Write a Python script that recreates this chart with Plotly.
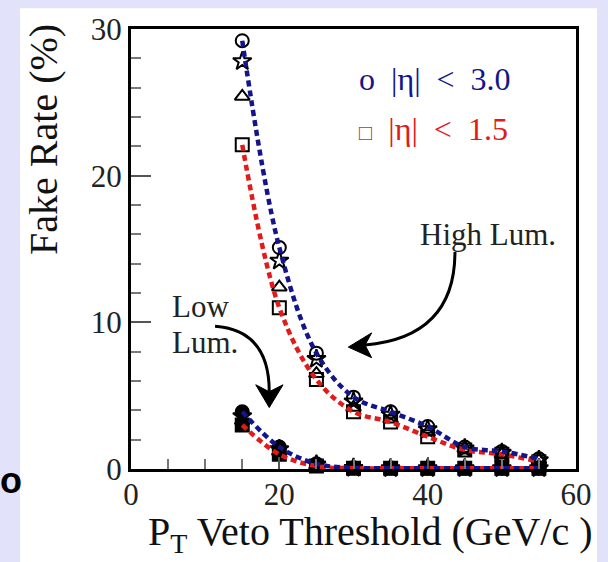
import plotly.graph_objects as go

# ---------------- data ----------------
pt_threshold = [15, 20, 25, 30, 35, 40, 45, 50, 55]

# High luminosity (open markers)
high_circle   = [29.2, 15.1, 7.9, 4.9, 3.9, 2.9, 1.5, 1.2, 0.7]
high_star     = [27.8, 14.2, 7.5, 4.6, 3.7, 2.7, 1.4, 1.1, 0.6]
high_triangle = [25.4, 12.4, 6.5, 4.2, 3.4, 2.5, 1.4, 1.0, 0.6]
high_square   = [22.1, 11.0, 6.1, 3.9, 3.2, 2.2, 1.3, 1.0, 0.5]

# Low luminosity (filled markers)
low_circle   = [3.9, 1.5, 0.35, 0.08, 0.06, 0.05, 0.05, 0.05, 0.05]
low_star     = [3.6, 1.35, 0.3, 0.07, 0.05, 0.05, 0.05, 0.05, 0.05]
low_triangle = [3.3, 1.2, 0.25, 0.06, 0.05, 0.05, 0.05, 0.05, 0.05]
low_square   = [3.0, 1.0, 0.2, 0.05, 0.05, 0.05, 0.05, 0.05, 0.05]

x_ticks = [0, 20, 40, 60]
y_ticks = [0, 10, 20, 30]

BLUE = "#14148c"
RED = "#e31a1a"
SERIF = "Liberation Serif, Times New Roman, serif"
NB = "\u00a0"

fig = go.Figure()

def add_markers(y, symbol, filled):
    fig.add_trace(go.Scatter(
        x=pt_threshold, y=y, mode="markers", showlegend=False,
        marker=dict(symbol=symbol if filled else symbol + "-open",
                    size=13 if symbol != "star" else 14,
                    color="black",
                    line=dict(color="black", width=2)),
        cliponaxis=False,
    ))

for ys, sym in [(high_circle, "circle"), (high_star, "star"),
                (high_triangle, "triangle-up"), (high_square, "square")]:
    add_markers(ys, sym, False)
for ys, sym in [(low_circle, "circle"), (low_star, "star"),
                (low_triangle, "triangle-up"), (low_square, "square")]:
    add_markers(ys, sym, True)

def add_curve(y, color):
    fig.add_trace(go.Scatter(
        x=pt_threshold, y=y, mode="lines", showlegend=False,
        line=dict(color=color, width=4.5, dash="6px,4px", shape="spline", smoothing=1.0),
        cliponaxis=False,
    ))

add_curve(high_square, RED)
add_curve(high_circle, BLUE)
add_curve(low_square, RED)
add_curve(low_circle, BLUE)

# ---------------- background panel ----------------
shapes = [
    dict(type="rect", xref="paper", yref="paper", x0=-0.2494, x1=1.0472,
         y0=-0.25, y1=1.0473, fillcolor="white", line=dict(width=0), layer="below"),
]

# curved arrows (annotation decorations)
shapes.append(dict(type="path", xref="x", yref="y",
                   path="M 43.68,14.8 C 43.68,10.07 37.6,8.72 31.55,8.45",
                   line=dict(color="black", width=3)))
shapes.append(dict(type="path", xref="x", yref="y",
                   path="M 29.3,8.31 L 32.45,9.28 L 31.55,8.45 L 32.45,7.59 Z",
                   fillcolor="black", line=dict(color="black", width=1)))
shapes.append(dict(type="path", xref="x", yref="y",
                   path="M 11.33,9.73 C 16.72,9.53 18.64,7.7 18.64,5.27",
                   line=dict(color="black", width=3)))
shapes.append(dict(type="path", xref="x", yref="y",
                   path="M 18.64,4.19 L 16.82,5.74 L 18.64,5.27 L 20.5,5.74 Z",
                   fillcolor="black", line=dict(color="black", width=1)))

annotations = [
    dict(x=30.5, y=26.6, xref="x", yref="y", xanchor="left", yanchor="middle",
         text=f"o{NB}{NB}|η|{NB}{NB}<{NB}{NB}3.0", showarrow=False,
         font=dict(family=SERIF, size=32, color=BLUE)),
    dict(x=30.5, y=23.2, xref="x", yref="y", xanchor="left", yanchor="middle",
         text=f"<span style='font-size:22px'>□</span>{NB}{NB}|η|{NB}{NB}<{NB}{NB}1.5",
         showarrow=False, font=dict(family=SERIF, size=32, color=RED)),
    dict(x=48.1, y=16.0, xref="x", yref="y", xanchor="center", yanchor="middle",
         text="High Lum.", showarrow=False, font=dict(family=SERIF, size=31, color="#222222")),
    dict(x=5.26, y=11.1, xref="x", yref="y", xanchor="left", yanchor="middle",
         text="Low", showarrow=False, font=dict(family=SERIF, size=31, color="#222222")),
    dict(x=5.26, y=8.65, xref="x", yref="y", xanchor="left", yanchor="middle",
         text="Lum.", showarrow=False, font=dict(family=SERIF, size=31, color="#222222")),
    # axis titles
    dict(x=-0.1955, y=0.748, xref="paper", yref="paper", xanchor="center", yanchor="middle",
         text="Fake Rate (%)", textangle=-90, showarrow=False,
         font=dict(family=SERIF, size=40, color="#111111")),
    dict(x=0.537, y=-0.147, xref="paper", yref="paper", xanchor="center", yanchor="middle",
         text="P<sub>T</sub> Veto Threshold (GeV/c )", showarrow=False,
         font=dict(family=SERIF, size=40, color="#111111")),
    # fragment of slide text at the far left
    dict(x=-0.2697, y=-0.027, xref="paper", yref="paper", xanchor="center", yanchor="middle",
         text="<b>o</b>", showarrow=False,
         font=dict(family="Liberation Sans, Arial, sans-serif", size=36, color="black")),
]

fig.update_layout(
    width=608, height=562,
    margin=dict(l=131, r=32, t=25, b=93),
    paper_bgcolor="#e2e2fa",
    plot_bgcolor="white",
    shapes=shapes,
    annotations=annotations,
    showlegend=False,
)

fig.update_xaxes(
    range=[0, 60], tickvals=x_ticks, ticktext=[str(v) for v in x_ticks],
    ticks="inside", ticklen=12, tickwidth=1.5, tickcolor="#555",
    minor=dict(dtick=5, ticks="inside", ticklen=10, tickwidth=1.5, tickcolor="#777"),
    showline=True, linecolor="black", linewidth=3, mirror=True,
    showgrid=False, zeroline=False, ticklabelstandoff=-4,
    tickfont=dict(family=SERIF, size=31, color="#222222"),
)
fig.update_yaxes(
    range=[0, 30], tickvals=y_ticks, ticktext=[str(v) for v in y_ticks],
    ticks="inside", ticklen=20, tickwidth=1.5, tickcolor="#555",
    minor=dict(dtick=2, ticks="inside", ticklen=10, tickwidth=1.5, tickcolor="#777"),
    showline=True, linecolor="black", linewidth=3, mirror=True,
    showgrid=False, zeroline=False,
    tickfont=dict(family=SERIF, size=31, color="#222222"),
)

fig.write_html("out.html")
